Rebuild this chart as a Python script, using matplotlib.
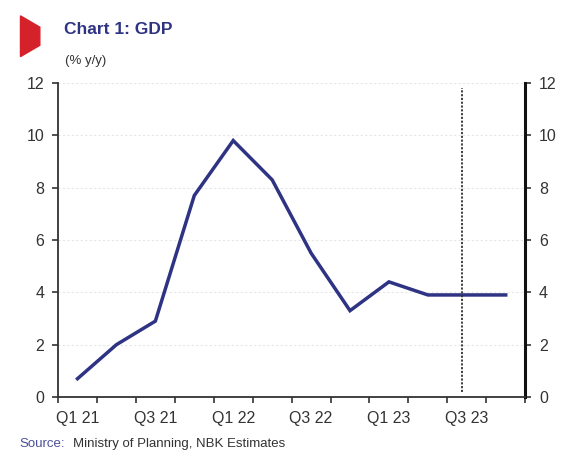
import numpy as np
import matplotlib.pyplot as plt
from matplotlib.patches import Polygon

quarters = ['Q1 21', 'Q2 21', 'Q3 21', 'Q4 21', 'Q1 22', 'Q2 22',
            'Q3 22', 'Q4 22', 'Q1 23', 'Q2 23', 'Q3 23', 'Q4 23']
gdp = [0.7, 2.0, 2.9, 7.7, 9.8, 8.3, 5.5, 3.3, 4.4, 3.9, 3.9, 3.9]
y_ticks = [0, 2, 4, 6, 8, 10, 12]
forecast_start = 9.88

navy = '#2f3383'
plt.rcParams['font.family'] = ['Liberation Sans', 'DejaVu Sans']

fig = plt.figure(figsize=(5.69, 4.53), dpi=100)
ax = fig.add_axes([0.102, 0.1236, 0.821, 0.6932])

x = np.arange(len(quarters))
ax.plot(x, gdp, color=navy, lw=2.5, solid_joinstyle='miter')
ax.axvline(forecast_start, ymin=0.015, ymax=0.985, color='#333333',
           lw=1.3, ls=(0, (1.2, 0.9)))

ax.set_xlim(-0.5, len(quarters) - 0.5)
ax.set_ylim(0, 12)
ax.set_yticks(y_ticks)
for yv in y_ticks[1:]:
    ax.axhline(yv, color='#e6e6e6', lw=0.8, ls=(0, (2, 2)), zorder=0)

ax.set_xticks(np.arange(-0.5, len(quarters)), minor=True)
ax.set_xticks(x[::2])
ax.set_xticklabels(quarters[::2])
ax.tick_params(axis='x', which='major', length=0, pad=10,
               labelsize=11.5, labelcolor='#333333')
ax.tick_params(axis='x', which='minor', length=4, width=1.2,
               color='#333333', direction='out')
ax.tick_params(axis='y', which='major', length=4, width=1.2,
               color='#333333', labelsize=11.5, labelcolor='#333333',
               left=True, right=True, labelleft=True, labelright=True,
               pad=6)

for side in ['left', 'bottom']:
    ax.spines[side].set_color('#333333')
    ax.spines[side].set_linewidth(1.3)
ax.spines['right'].set_color('#111111')
ax.spines['right'].set_linewidth(2.2)
ax.spines['top'].set_visible(False)

# red marker beside the title
flag = Polygon([[0.036, 0.965], [0.07, 0.94], [0.07, 0.9], [0.036, 0.875]],
               closed=True, transform=fig.transFigure, color='#d4212a')
fig.patches.append(flag)

fig.text(0.112, 0.935, 'Chart 1: GDP', color=navy, fontsize=12.5,
         fontweight='bold', va='center')
fig.text(0.114, 0.865, '(% y/y)', color='#333333', fontsize=9.5, va='center')
fig.text(0.035, 0.02, 'Source:', color='#4a4f9a', fontsize=9.5, va='center')
fig.text(0.128, 0.02, 'Ministry of Planning, NBK Estimates', color='#333333',
         fontsize=9.5, va='center')

fig.savefig('out.png', dpi=100)
